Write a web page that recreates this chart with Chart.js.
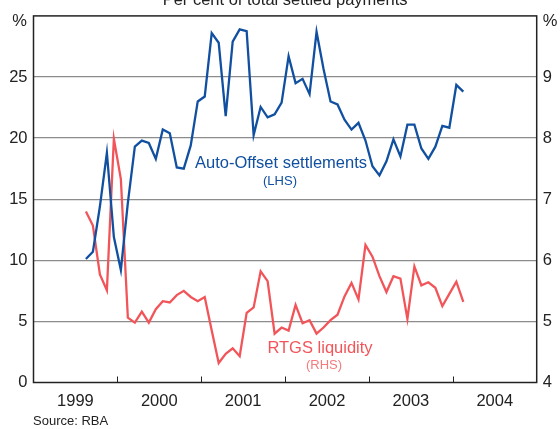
<!DOCTYPE html>
<html>
<head>
<meta charset="utf-8">
<script src="https://cdn.jsdelivr.net/npm/chart.js@4.4.1/dist/chart.umd.min.js"></script>
<style>
  html, body { margin: 0; padding: 0; background: #fff; }
  canvas { display: block; }
</style>
</head>
<body>
<canvas id="chart" width="560" height="429"></canvas>
<script>
// monthly observations, Aug 1999 - Feb 2004
const months = [
  '1999-08', '1999-09', '1999-10', '1999-11', '1999-12',
  '2000-01', '2000-02', '2000-03', '2000-04', '2000-05', '2000-06', '2000-07', '2000-08', '2000-09', '2000-10', '2000-11', '2000-12',
  '2001-01', '2001-02', '2001-03', '2001-04', '2001-05', '2001-06', '2001-07', '2001-08', '2001-09', '2001-10', '2001-11', '2001-12',
  '2002-01', '2002-02', '2002-03', '2002-04', '2002-05', '2002-06', '2002-07', '2002-08', '2002-09', '2002-10', '2002-11', '2002-12',
  '2003-01', '2003-02', '2003-03', '2003-04', '2003-05', '2003-06', '2003-07', '2003-08', '2003-09', '2003-10', '2003-11', '2003-12',
  '2004-01', '2004-02'
];

// Auto-Offset settlements, % (LHS)
const autoOffset = [
  10.1, 10.7, 14.4, 18.8, 11.9,
  9.2, 14.7, 19.3, 19.8, 19.6, 18.3, 20.7, 20.4, 17.6, 17.5, 19.4, 23.0,
  23.4, 28.6, 27.8, 21.8, 27.9, 28.9, 28.75, 20.25, 22.55, 21.7, 21.95, 22.9,
  26.7, 24.5, 24.85, 23.6, 28.7, 25.65, 23.0, 22.75, 21.5, 20.7, 21.25, 19.8,
  17.7, 16.95, 18.1, 19.9, 18.5, 21.1, 21.1, 19.15, 18.3, 19.3, 21.0, 20.85,
  24.35, 23.8
];

// RTGS liquidity, % (RHS)
const rtgsLiquidity = [
  6.80, 6.57, 5.77, 5.51, 7.99,
  7.33, 5.06, 4.98, 5.16, 4.98, 5.20, 5.33, 5.31, 5.43, 5.50, 5.40, 5.33,
  5.40, 4.85, 4.32, 4.47, 4.56, 4.43, 5.14, 5.23, 5.82, 5.66, 4.80, 4.90,
  4.85, 5.27, 4.97, 5.02, 4.80, 4.90, 5.02, 5.11, 5.41, 5.63, 5.36, 6.25,
  6.06, 5.74, 5.48, 5.74, 5.70, 5.04, 5.90, 5.59, 5.64, 5.55, 5.25, 5.45,
  5.65, 5.32
];

const years = ['1999', '2000', '2001', '2002', '2003', '2004'];
const leftTicks = [0, 5, 10, 15, 20, 25];
const rightTicks = [4, 5, 6, 7, 8, 9];

const BLUE = '#1150a0';
const RED = '#f25559';
const FONT = 'Liberation Sans, Arial, sans-serif';

// months since Jan 1999, placed mid-month
function monthPos(m) {
  const [y, mm] = m.split('-').map(Number);
  return (y - 1999) * 12 + (mm - 1) + 0.5;
}
const toPoints = vals => vals.map((v, i) => ({ x: monthPos(months[i]), y: v }));

const decor = {
  id: 'decor',
  afterDraw(chart) {
    const { ctx, chartArea: a, scales } = chart;
    const xs = scales.x;
    ctx.save();

    // year boundary ticks, pointing up from the axis
    ctx.strokeStyle = '#222';
    ctx.lineWidth = 1;
    for (let i = 1; i < years.length; i++) {
      const px = Math.round(xs.getPixelForValue(i * 12)) + 0.5;
      ctx.beginPath();
      ctx.moveTo(px, a.bottom);
      ctx.lineTo(px, a.bottom - 6);
      ctx.stroke();
    }

    // frame
    ctx.lineWidth = 1.5;
    ctx.strokeRect(a.left, a.top, a.right - a.left, a.bottom - a.top);

    // title (cut at top in original)
    ctx.fillStyle = '#222';
    ctx.textAlign = 'center';
    ctx.textBaseline = 'alphabetic';
    ctx.font = '16.5px ' + FONT;
    ctx.fillText('Per cent of total settled payments', (a.left + a.right) / 2, 5);

    // unit labels
    ctx.textBaseline = 'middle';
    ctx.fillText('%', 19.5, 21);
    ctx.fillText('%', 550, 21);

    // series labels
    ctx.fillStyle = BLUE;
    ctx.fillText('Auto-Offset settlements', 281, 163);
    ctx.font = '13px ' + FONT;
    ctx.fillText('(LHS)', 280, 181);

    ctx.fillStyle = RED;
    ctx.font = '16.5px ' + FONT;
    ctx.fillText('RTGS liquidity', 320, 348);
    ctx.font = '13px ' + FONT;
    ctx.fillStyle = '#f47a7d';
    ctx.fillText('(RHS)', 324, 365);

    // source
    ctx.fillStyle = '#222';
    ctx.textAlign = 'left';
    ctx.font = '13px ' + FONT;
    ctx.fillText('Source: RBA', 33, 421);
    ctx.restore();
  }
};

new Chart(document.getElementById('chart'), {
  type: 'line',
  data: {
    datasets: [
      {
        label: 'Auto-Offset settlements',
        data: toPoints(autoOffset),
        yAxisID: 'y',
        borderColor: BLUE,
        borderWidth: 2.3,
        pointRadius: 0,
        tension: 0
      },
      {
        label: 'RTGS liquidity',
        data: toPoints(rtgsLiquidity),
        yAxisID: 'y2',
        borderColor: RED,
        borderWidth: 2.3,
        pointRadius: 0,
        tension: 0
      }
    ]
  },
  options: {
    responsive: false,
    animation: false,
    devicePixelRatio: 1,
    layout: { padding: { top: 12 } },
    plugins: { legend: { display: false }, tooltip: { enabled: false } },
    scales: {
      x: {
        type: 'linear',
        min: 0,
        max: years.length * 12,
        afterFit: s => { s.height = 46.5; },
        afterBuildTicks: s => { s.ticks = years.map((_, i) => ({ value: i * 12 + 6 })); },
        grid: { display: false, drawTicks: false },
        border: { display: false },
        ticks: {
          autoSkip: false,
          maxRotation: 0,
          padding: 9,
          color: '#222',
          font: { family: FONT, size: 16.5 },
          callback: v => years[Math.round((v - 6) / 12)]
        }
      },
      y: {
        position: 'left',
        min: 0,
        max: 30,
        afterFit: s => { s.width = 33.5; },
        afterBuildTicks: s => { s.ticks = leftTicks.concat([30]).map(v => ({ value: v })); },
        grid: {
          drawTicks: false,
          lineWidth: 1.3,
          color: c => (c.tick.value === 0 || c.tick.value === 30) ? 'rgba(0,0,0,0)' : '#8c8c8c'
        },
        border: { display: false },
        ticks: {
          padding: 6,
          color: '#222',
          font: { family: FONT, size: 16.5 },
          callback: v => leftTicks.includes(v) ? String(v) : ''
        }
      },
      y2: {
        position: 'right',
        min: 4,
        max: 10,
        afterFit: s => { s.width = 23.3; },
        afterBuildTicks: s => { s.ticks = rightTicks.map(v => ({ value: v })); },
        grid: { drawOnChartArea: false, drawTicks: false },
        border: { display: false },
        ticks: {
          padding: 6,
          color: '#222',
          font: { family: FONT, size: 16.5 },
          callback: v => String(v)
        }
      }
    }
  },
  plugins: [decor]
});
</script>
</body>
</html>
